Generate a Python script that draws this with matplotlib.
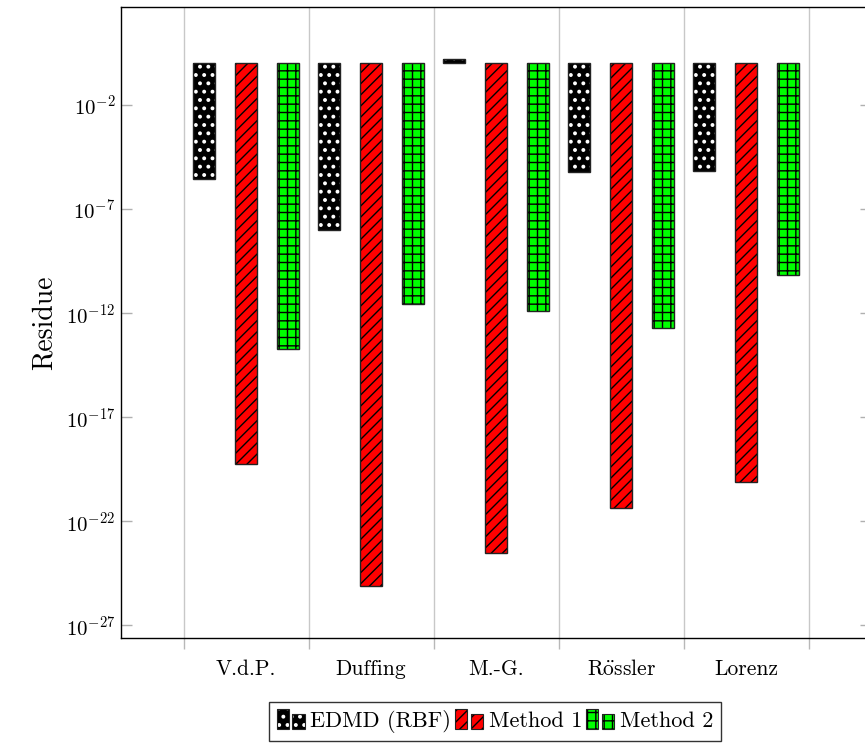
import numpy as np
import matplotlib
matplotlib.use("Agg")
import matplotlib.pyplot as plt
from matplotlib.patches import Rectangle
from matplotlib.legend_handler import HandlerBase
from matplotlib.ticker import NullLocator, LogFormatterSciNotation

# data
systems = ["V.d.P.", "Duffing", "M.-G.", r"R$\ddot{\mathrm{o}}$ssler", "Lorenz"]
methods = ["EDMD (RBF)", "Method 1", "Method 2"]
edmd_rbf = [2.8e-6, 9.8e-9, 1.66, 5.9e-6, 6.6e-6]
method1 = [5.4e-20, 7.9e-26, 3.1e-24, 4.1e-22, 8.1e-21]
method2 = [1.95e-14, 2.8e-12, 1.3e-12, 1.9e-13, 6.5e-11]

plt.rcParams['font.family'] = ['cmr10', 'DejaVu Serif']
plt.rcParams['mathtext.fontset'] = 'cm'
plt.rcParams['axes.unicode_minus'] = False
plt.rcParams['axes.formatter.use_mathtext'] = True
plt.rcParams['hatch.linewidth'] = 1.0

# style per series: face, hatch, hatch colour, hatch width
styles = [
    dict(face='black', hatch='..', hcolor='white', hlw=1.6),
    dict(face='#ff0000', hatch='///', hcolor='black', hlw=1.0),
    dict(face='#00ff00', hatch='++', hcolor='black', hlw=1.0),
]
edge = '#222222'
offsets = [-0.334, 0.0, 0.334]
width = 0.176


def hatched(patches, st):
    for p in patches:
        if hasattr(p, 'set_hatch_linewidth'):
            p.set_hatch_linewidth(st['hlw'])


fig = plt.figure(figsize=(8.65, 7.46), dpi=100)
ax = fig.add_axes([121 / 865, (746 - 638) / 746, 750 / 865, 631 / 746])

x = np.arange(len(systems))
base = 1.0
for vals, off, st in zip([edmd_rbf, method1, method2], offsets, styles):
    v = np.array(vals)
    # bars hang from 1 down (or up) to the value
    ax.bar(x + off, base - v, width=width, bottom=v, color=st['face'],
           edgecolor=st['face'], linewidth=0, zorder=2)
    with plt.rc_context({'hatch.linewidth': st['hlw']}):
        b = ax.bar(x + off, base - v, width=width, bottom=v, facecolor='none',
                   edgecolor=st['hcolor'], hatch=st['hatch'], linewidth=0,
                   zorder=3)
    hatched(b, st)
    ax.bar(x + off, base - v, width=width, bottom=v, facecolor='none',
           edgecolor=edge, linewidth=1.0, zorder=4)

ax.set_yscale('log')
ax.set_ylim(10 ** -27.61, 10 ** 2.71)
ax.set_xlim(-1, 5)
ax.set_yticks([10.0 ** k for k in range(-27, 0, 5)])
ax.yaxis.set_major_formatter(LogFormatterSciNotation())
ax.yaxis.set_minor_locator(NullLocator())
ax.tick_params(axis='y', which='major', direction='in', length=8, width=1,
               color='#b0b0b0', left=True, right=True, labelsize=15, pad=4)

ax.set_xticks(x)
ax.set_xticklabels(systems, fontsize=15.5)
for lbl in ax.get_xticklabels():
    lbl.set_verticalalignment('baseline')
ax.set_xticks(np.arange(-0.5, len(systems), 1.0), minor=True)
ax.tick_params(axis='x', which='major', length=0, pad=26.5)
ax.tick_params(axis='x', which='minor', direction='out', length=8, width=1,
               color='#b8b8b8')
ax.grid(True, axis='x', which='minor', color='#c8c8c8', linewidth=1, zorder=0)
ax.set_axisbelow(True)
for s in ax.spines.values():
    s.set_linewidth(1.0)
ax.set_ylabel('Residue', fontsize=20, labelpad=6)


class TwoBars(HandlerBase):
    def __init__(self, st):
        super().__init__()
        self.st = st

    def create_artists(self, legend, orig_handle, xdescent, ydescent, width,
                       height, fontsize, trans):
        st = self.st
        w = width * 0.42
        hs = [height * 1.3, height * 0.95]
        xs = [-xdescent, -xdescent + width * 0.55]
        arts = []
        for xx, hh in zip(xs, hs):
            y0 = -ydescent - height * 0.15
            arts.append(Rectangle((xx, y0), w, hh, facecolor=st['face'],
                                  edgecolor=st['face'], lw=0, transform=trans))
            with plt.rc_context({'hatch.linewidth': st['hlw']}):
                r = Rectangle((xx, y0), w, hh, facecolor='none',
                              edgecolor=st['hcolor'], hatch=st['hatch'],
                              lw=0, transform=trans)
            hatched([r], st)
            arts.append(r)
            arts.append(Rectangle((xx, y0), w, hh, facecolor='none',
                                  edgecolor=edge, lw=0.8, transform=trans))
        return arts


handles = [Rectangle((0, 0), 1, 1) for _ in methods]
leg = fig.legend(handles, methods, loc='center', ncol=3,
                 bbox_to_anchor=(0.572, 0.033), bbox_transform=fig.transFigure,
                 handler_map={h: TwoBars(st) for h, st in zip(handles, styles)},
                 fontsize=16, frameon=True, fancybox=False, edgecolor='black',
                 handlelength=1.3, handletextpad=0.2, columnspacing=0.2,
                 borderpad=0.35)
leg.get_frame().set_linewidth(1.0)

fig.savefig('out.png', dpi=100)
